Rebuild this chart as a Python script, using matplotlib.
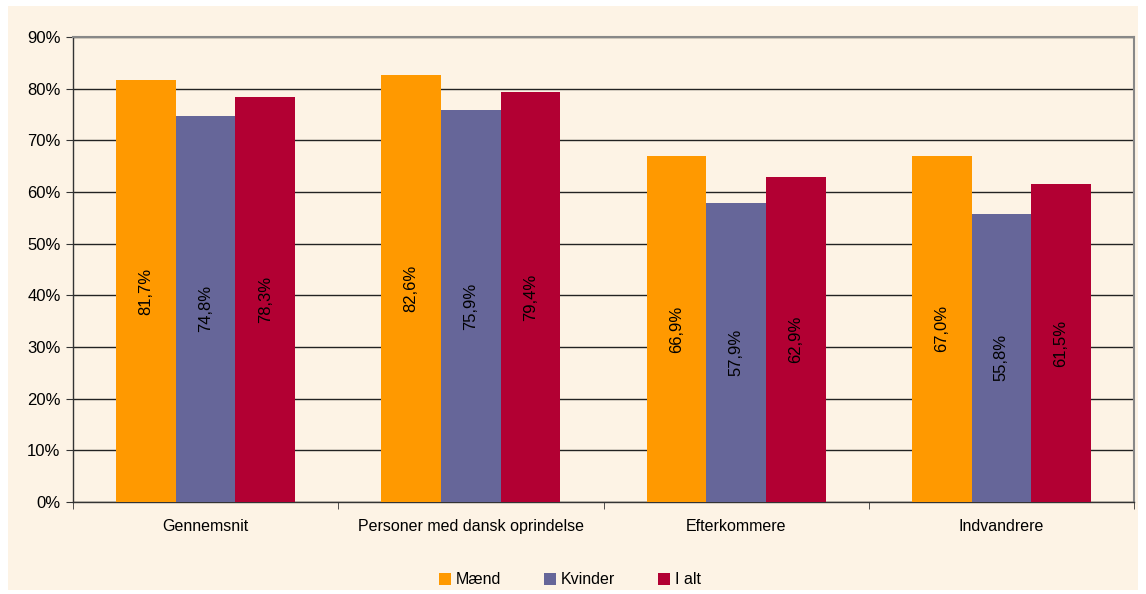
import matplotlib.pyplot as plt
import numpy as np
from matplotlib.patches import Rectangle

plt.rcParams['font.family'] = ['Liberation Sans', 'DejaVu Sans']

categories = ['Gennemsnit', 'Personer med dansk oprindelse', 'Efterkommere', 'Indvandrere']
series = ['Mænd', 'Kvinder', 'I alt']
maend = [81.7, 82.6, 66.9, 67.0]
kvinder = [74.8, 75.9, 57.9, 55.8]
ialt = [78.3, 79.4, 62.9, 61.5]
yticks = [0, 10, 20, 30, 40, 50, 60, 70, 80, 90]

colors = ['#FF9900', '#666699', '#B20033']
bg = '#FDF3E5'

fig = plt.figure(figsize=(11.46, 5.94), dpi=100)
fig.patch.set_facecolor('white')
# cream chart area with white margin
fig.add_artist(Rectangle((8 / 1146, 4 / 594), 1130 / 1146, 584 / 594,
                         transform=fig.transFigure, facecolor=bg,
                         edgecolor='none', zorder=-5))

ax = fig.add_axes([73 / 1146, 1 - 502 / 594, (1134 - 73) / 1146, (502 - 37) / 594])
ax.set_zorder(1)
ax.set_facecolor(bg)

x = np.arange(len(categories))
w = 0.225
for i, (vals, col) in enumerate(zip([maend, kvinder, ialt], colors)):
    pos = x + (i - 1) * w
    ax.bar(pos, vals, width=w, color=col, label=series[i], zorder=3)
    for p, v in zip(pos, vals):
        ax.text(p, v / 2, f'{v:.1f}%'.replace('.', ','), rotation=90,
                ha='center', va='center', fontsize=12, color='black', zorder=4)

ax.set_xlim(-0.5, len(categories) - 0.5)
ax.set_ylim(0, 90)
ax.set_yticks(yticks)
ax.set_yticklabels([f'{t}%' for t in yticks], fontsize=12)
ax.yaxis.grid(True, color='#222222', linewidth=1, zorder=1)
ax.set_xticks(x)
ax.set_xticklabels(categories, fontsize=11.5)
ax.tick_params(axis='x', length=0, pad=12)
ax.set_xticks(np.arange(len(categories) + 1) - 0.5, minor=True)
ax.tick_params(axis='x', which='minor', length=5, color='#333333')
ax.tick_params(axis='y', length=5, color='#333333', pad=4)

for s in ['top', 'right']:
    ax.spines[s].set_color('#888888')
    ax.spines[s].set_linewidth(1.5)
for s in ['left', 'bottom']:
    ax.spines[s].set_color('#333333')
    ax.spines[s].set_linewidth(1)

fig.legend(loc='center', bbox_to_anchor=(570 / 1146, 1 - 580 / 594), ncol=3,
           frameon=False, fontsize=11.5, handlelength=0.75, handleheight=0.75,
           handletextpad=0.3, columnspacing=2.7)

fig.savefig('out.png', dpi=100, facecolor=fig.get_facecolor())
